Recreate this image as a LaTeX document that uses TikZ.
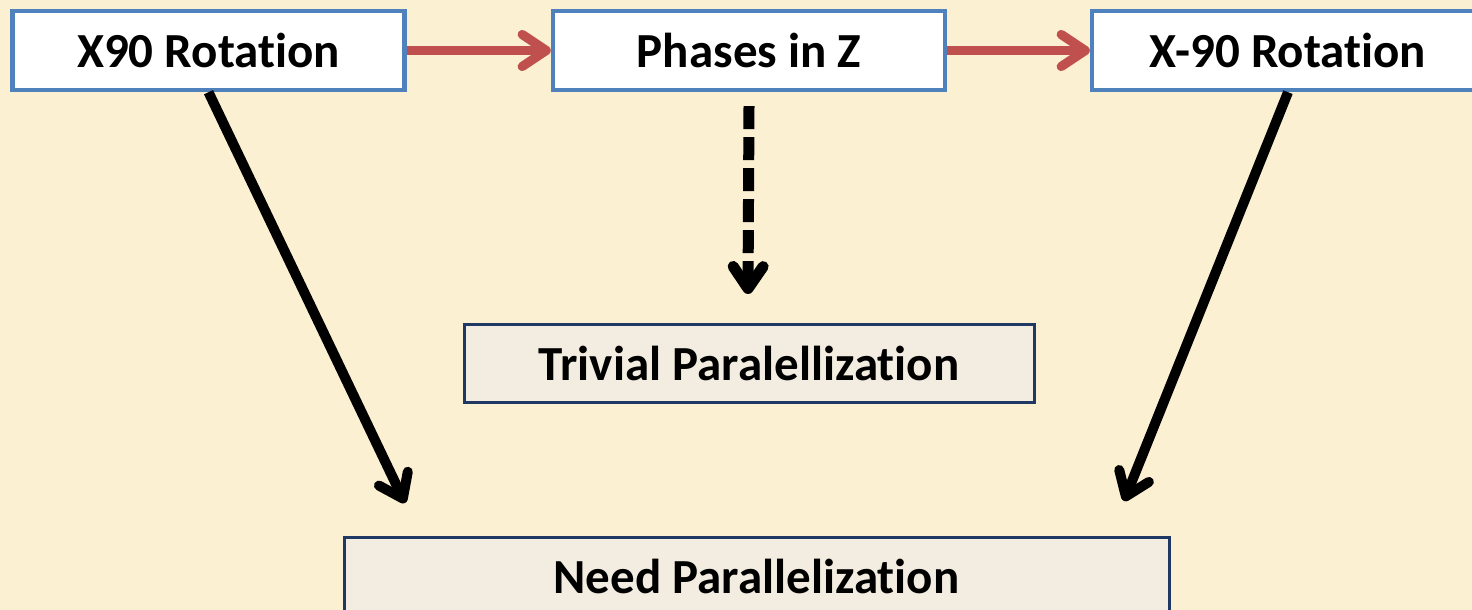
\documentclass[tikz,border=0pt]{standalone}
\usepackage{fontspec}
\setmainfont{Carlito}[RawFeature={-liga}]
\usetikzlibrary{arrows.meta}
\definecolor{bg}{RGB}{252,240,210}
\definecolor{boxblue}{RGB}{79,129,189}
\definecolor{navy}{RGB}{31,56,100}
\definecolor{arrred}{RGB}{192,80,77}
\definecolor{lowfill}{RGB}{242,237,224}
\begin{document}
\begin{tikzpicture}[x=0.5pt,y=-0.5pt,
  topbox/.style={draw=boxblue,line width=2.2pt,fill=white,minimum width=196pt,minimum height=39.5pt,inner sep=0pt,font=\fontsize{24.5}{30}\selectfont\bfseries},
  lowbox/.style={draw=navy,line width=1.5pt,fill=lowfill,inner sep=0pt,font=\fontsize{24.5}{30}\selectfont\bfseries},
  redarr/.style={draw=arrred,line width=4.6pt,-{Straight Barb[length=12pt,width=16pt,round]}},
  blkarr/.style={draw=black,line width=5pt,-{Straight Barb[length=11pt,width=16pt,round]}},
  dasharr/.style={draw=black,line width=5.5pt,dash pattern=on 11.5pt off 4pt,-{Straight Barb[length=11pt,width=15pt,round]}}]
\useasboundingbox (0,0) rectangle (1472,610);
\fill[bg] (0,0) rectangle (1472,610);
\clip (0,0) rectangle (1472,610);
\node[topbox] (x90) at (208.5,50.5) {X90 Rotation};
\node[topbox] (ph) at (749,50.5) {Phases in Z};
\node[topbox] (xm90) at (1288,50.5) {X-90 Rotation};
\node[lowbox,minimum width=285pt,minimum height=39pt] (triv) at (749,363) {Trivial Paralellization};
\node[lowbox,minimum width=412.5pt,minimum height=39pt] (need) at (756.5,576) {Need Parallelization};
\coordinate (lt) at (405,503);
\coordinate (rt) at (1124,501);
\coordinate (dt) at (748,294);
\draw[redarr] (x90.east) -- (ph.west);
\draw[redarr] (ph.east) -- (xm90.west);
\draw[blkarr] (x90.south) -- (lt);
\draw[blkarr] (xm90.south) -- (rt);
\draw[dasharr] ([yshift=-7pt]ph.south) -- (dt);
\end{tikzpicture}
\end{document}
